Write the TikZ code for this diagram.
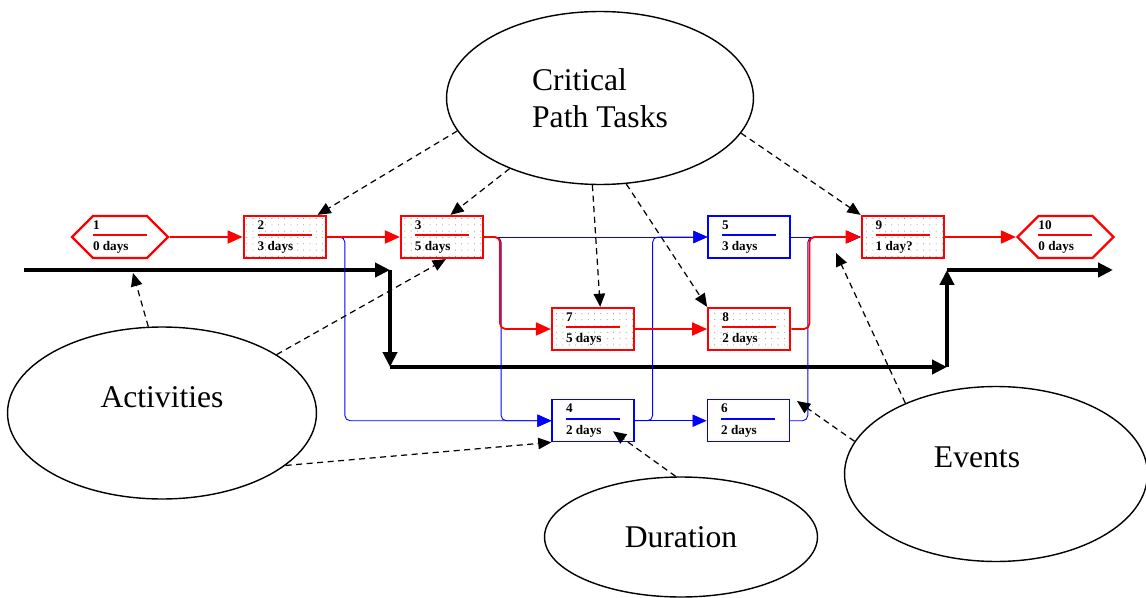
\documentclass[tikz,border=0pt]{standalone}
\usepackage{fontspec}
\setmainfont{Liberation Serif}
\usetikzlibrary{arrows.meta, positioning, shapes.geometric, shapes.symbols, patterns.meta, calc}

\newcommand{\tasktext}[3]{%
  \begin{tabular}{@{}l@{}}
    \textbf{#1}\\[-2.6pt]
    {\color{#3}\rule[2.4pt]{1.08cm}{0.8pt}}\\[-2.6pt]
    \textbf{#2}
  \end{tabular}}

\tikzset{
  task/.style={draw, rectangle, minimum width=1.64cm, minimum height=0.84cm, inner sep=0pt,
    font=\fontsize{7.5}{8.8}\selectfont},
  crittask/.style={task, red, line width=1.3pt, text=black,
    pattern={Dots[distance=3.6pt, radius=0.3pt]}, pattern color=black!45},
  normtask/.style={task, blue, line width=0.7pt, text=black},
  milestone/.style={draw, red, line width=1.3pt, text=black, signal, signal to=east and west,
    signal pointer angle=90, minimum width=1.9cm, minimum height=0.84cm, inner sep=0pt,
    font=\fontsize{7.5}{8.8}\selectfont},
  critline/.style={red, line width=1pt, rounded corners=3pt, -{Triangle[length=8.5pt, width=7.4pt]}},
  normline/.style={blue, line width=0.5pt, rounded corners=3pt, -{Triangle[length=8pt, width=7pt]}},
  flow/.style={line width=2.8pt, -{Triangle[length=8.5pt, width=8pt]}},
  note/.style={draw, ellipse, line width=0.8pt, font=\fontsize{18}{21}\selectfont},
  pointer/.style={dash pattern=on 3.5pt off 2.5pt, line width=0.7pt, -{Triangle[length=7.5pt, width=6.5pt]}}
}

\begin{document}
\begin{tikzpicture}[x=0.02cm, y=-0.02cm]
        \useasboundingbox (0,0) rectangle (1146,598);

        % Nodes
        \node[milestone] (n1) at (120,237) {\tasktext{1}{0 days}{red}};
        \node[crittask, right=1.46cm of n1] (n2) {\tasktext{2}{3 days}{red}};
        \node[crittask, right=1.46cm of n2] (n3) {\tasktext{3}{5 days}{red}};
        \node[normtask] (n5) at (749,237) {\tasktext{5}{3 days}{blue}};
        \node[crittask, right=1.4cm of n5] (n9) {\tasktext{9}{1 day?}{red}};
        \node[milestone, right=1.42cm of n9] (n10) {\tasktext{10}{0 days}{red}};
        \node[crittask] (n7) at (593,329) {\tasktext{7}{5 days}{red}};
        \node[crittask, right=1.44cm of n7] (n8) {\tasktext{8}{2 days}{red}};
        \node[normtask, below=0.96cm of n7] (n4) {\tasktext{4}{2 days}{blue}};
        \node[normtask, right=1.44cm of n4] (n6) {\tasktext{6}{2 days}{blue}};

        % Callouts
        \node[note, align=left, minimum width=6.14cm, minimum height=3.46cm] (crit) at (600,98) {Critical\\Path Tasks};
        \node[note, minimum width=6.18cm, minimum height=3.44cm, label={[yshift=0.32cm, font=\fontsize{18}{21}\selectfont]center:Activities}] (act) at (162,413) {};
        \node[note, minimum width=5.46cm, minimum height=2.4cm] (dur) at (681,537) {Duration};
        \node[note, minimum width=6.06cm, minimum height=3.5cm, label={[xshift=-0.38cm, yshift=0.34cm, font=\fontsize{18}{21}\selectfont]center:Events}] (evt) at (996,474) {};

        % Flow of the work
        \coordinate (f0) at (24,270);
        \coordinate (f1) at (390,270);
        \coordinate (f2) at (390,367);
        \coordinate (f3) at (947,367);
        \coordinate (f4) at (947,270);
        \coordinate (f5) at (1113,270);
        \draw[flow] (f0) -- (f1);
        \draw[flow] (f1) -- (f2);
        \draw[flow] (f2) -- (f3);
        \draw[flow] (f3) -- (f4);
        \draw[flow] (f4) -- (f5);

        % Arrows
        \draw[normline] (n2.east) -- ++(18,0) |- (n4.west);
        \draw[normline] (n3) -- (n5);
        \draw[normline] (n3.east) -- ++(17,0) |- (n4.west);
        \draw[normline] (n4.east) -- ++(18,0) |- (n5.west);
        \draw[normline] (n4) -- (n6);
        \draw[normline] (n5) -- (n9);
        \draw[normline] (n6.east) -- ++(18,0) |- (n9.west);
        \draw[critline] (n1) -- (n2);
        \draw[critline] (n2) -- (n3);
        \draw[critline] (n3.east) -- ++(16,0) |- (n7.west);
        \draw[critline] (n7) -- (n8);
        \draw[critline] (n8.east) -- ++(18,0) |- (n9.west);
        \draw[critline] (n9) -- (n10);

        % Pointers
        \coordinate (acttip) at (133,273);
        \coordinate (evtip1) at (797,401);
        \coordinate (evtip2) at (836,253);
        \draw[pointer] (crit.193) -- (n2.34);
        \draw[pointer] (crit.218) -- (n3.69);
        \draw[pointer] (crit.265) -- (n7.72);
        \draw[pointer] (crit.287) -- (n8.north west);
        \draw[pointer] (crit.346) -- (n9.north west);
        \draw[pointer] (act.99) -- (acttip);
        \draw[pointer] (act.27) -- (n3.-80);
        \draw[pointer] (act.337) -- (n4.south west);
        \draw[pointer] (dur.95) -- ($(n4.south)+(20,-11)$);
        \draw[pointer] (evt.167) -- (evtip1);
        \draw[pointer] (evt.142) -- (evtip2);

\end{tikzpicture}
\end{document}
